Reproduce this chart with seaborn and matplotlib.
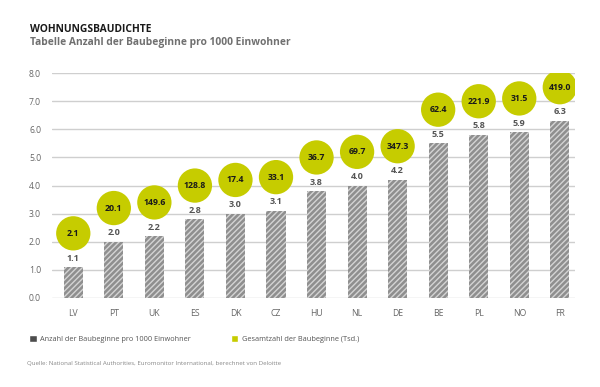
import numpy as np
import pandas as pd
import matplotlib
matplotlib.use("Agg")
import matplotlib.pyplot as plt
from matplotlib.patches import Patch
import seaborn as sns

# data
countries = ["LV", "PT", "UK", "ES", "DK", "CZ", "HU", "NL", "DE", "BE", "PL", "NO", "FR"]
per_1000 = [1.1, 2.0, 2.2, 2.8, 3.0, 3.1, 3.8, 4.0, 4.2, 5.5, 5.8, 5.9, 6.3]
total_tsd = [2.1, 20.1, 149.6, 128.8, 17.4, 33.1, 36.7, 69.7, 347.3, 62.4, 221.9, 31.5, 419.0]
y_ticks = [0, 1, 2, 3, 4, 5, 6, 7, 8]

df = pd.DataFrame({"country": countries, "rate": per_1000, "total": total_tsd})
df["pos"] = np.arange(len(df))
df["bubble_y"] = df["rate"] + 1.2

sns.set_theme(style="white")
plt.rcParams["font.family"] = ["Open Sans", "DejaVu Sans"]
plt.rcParams["hatch.linewidth"] = 1.0

gray_txt = "#666666"
lime = "#c6cc00"

fig = plt.figure(figsize=(6, 3.87), dpi=100)
ax = fig.add_axes([0.087, 0.23, 0.871, 0.581])

sns.barplot(data=df, x="country", y="rate", color="#8f8f8f", width=0.47,
            saturation=1, ax=ax, zorder=3)
for p in ax.patches:
    p.set_hatch("//////")
    p.set_edgecolor("#d4d4d4")
    p.set_linewidth(0)

for _, r in df.iterrows():
    ax.text(r["pos"], r["rate"] + 0.32, f"{r['rate']:.1f}", ha="center", va="center",
            fontsize=6.5, fontweight="bold", color="#555555", zorder=5)

sns.scatterplot(data=df, x="pos", y="bubble_y", s=610, color=lime,
                edgecolor="none", ax=ax, zorder=4, legend=False)
for _, r in df.iterrows():
    ax.text(r["pos"], r["bubble_y"], f"{r['total']:.1f}", ha="center", va="center",
            fontsize=6.3, fontweight="bold", color="#1a1a1a", zorder=6)

ax.set_ylim(0, 8)
ax.set_xlim(-0.52, 12.37)
ax.set_yticks(y_ticks)
ax.set_yticklabels([f"{v:.1f}" for v in y_ticks])
ax.yaxis.grid(True, color="#cfcfcf", linewidth=1)
ax.set_axisbelow(True)
for s in ax.spines.values():
    s.set_visible(False)
ax.tick_params(axis="both", length=0, labelsize=6.2, labelcolor=gray_txt, pad=8)
ax.set_xlabel("")
ax.set_ylabel("")

fig.text(0.05, 0.925, "WOHNUNGSBAUDICHTE", fontsize=7.4, fontweight="bold",
         color="#1a1a1a", va="center")
fig.text(0.05, 0.891, "Tabelle Anzahl der Baubeginne pro 1000 Einwohner", fontsize=7.4,
         fontweight="bold", color="#707070", va="center")

handles = [Patch(facecolor="#4d4d4d", label="Anzahl der Baubeginne pro 1000 Einwohner"),
           Patch(facecolor=lime, label="Gesamtzahl der Baubeginne (Tsd.)")]
leg = fig.legend(handles=handles, loc="center left", bbox_to_anchor=(0.038, 0.124),
                 ncol=2, frameon=False, fontsize=5.3, handlelength=1.0, handleheight=1.0,
                 handletextpad=0.5, columnspacing=5.4)
for t in leg.get_texts():
    t.set_color("#555555")

fig.text(0.045, 0.06, "Quelle: National Statistical Authorities, Euromonitor International, berechnet von Deloitte",
         fontsize=4.4, color="#888888", va="center")

fig.savefig("out.png", dpi=100)
